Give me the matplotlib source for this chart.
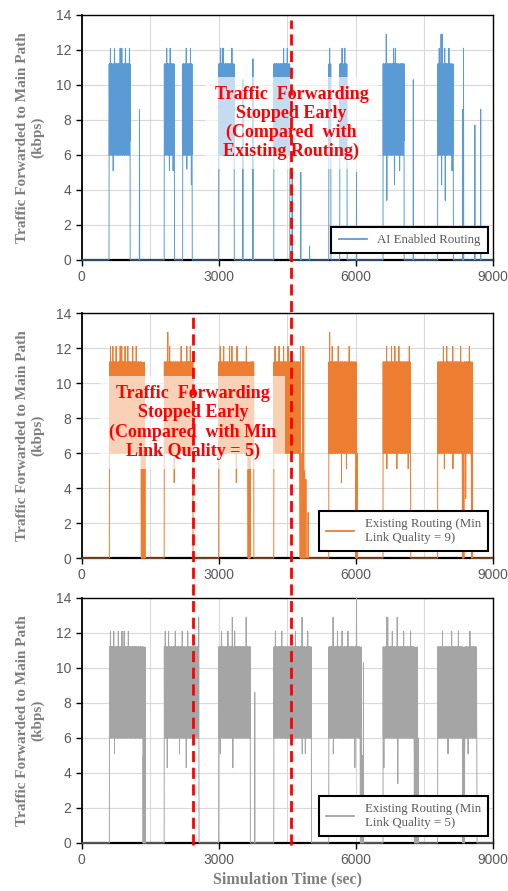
# Traffic forwarded to the main path: AI routing vs existing routing
import numpy as np
import matplotlib.pyplot as plt
from matplotlib.lines import Line2D
from matplotlib.transforms import blended_transform_factory

# DATA
dt = 4                                   # sample step (sec)
t = np.arange(0, 9001, dt)

# levels the traffic jumps between inside a burst
burst_levels = [11.2, 6.0, 11.2, 6.0, 11.2, 6.8, 11.2, 6.0, 10.3, 6.0, 11.2, 6.0]
drop_levels = [5.0, 0.0, 11.2, 0.0, 5.0, 6.0, 0.0, 10.3]

# AI enabled routing
ai_bursts = [(600, 1060), (1805, 2030), (2210, 2420), (3000, 3340), (4205, 4555),
             (5410, 5455), (5650, 5810), (6600, 7060), (7795, 8140)]
ai_drops = []
ai_spikes = [(630, 12.1), (715, 12.1), (690, 5.1), (840, 12.1), (875, 12.1), (955, 12.1),
             (1045, 12.1), (1265, 8.6), (1860, 12.1), (1935, 12.1), (1920, 5.1), (2000, 5.1),
             (2290, 12.1), (2380, 12.1), (2300, 5.2), (2400, 4.3), (3040, 12.1), (3080, 12.1),
             (3100, 12.1), (3290, 12.1), (3530, 10.3), (3750, 11.5), (4420, 12.1),
             (4500, 12.1), (4610, 5.0), (4795, 5.0), (4990, 0.8), (5430, 12.1), (5700, 12.1),
             (5760, 12.1), (6015, 5.0), (6670, 12.9), (6680, 3.4), (6830, 12.1), (6850, 4.3),
             (6870, 12.1), (6960, 5.1), (7260, 10.3), (7830, 12.1), (7870, 12.9), (7880, 4.3),
             (7900, 12.9), (7950, 12.1), (7960, 3.4), (8040, 12.1), (8110, 5.1), (8340, 8.6),
             (8360, 12.1), (8610, 7.7), (8735, 8.6)]

# existing routing, min link quality = 9
q9_bursts = [(607, 1300), (1805, 2435), (2997, 3640), (3690, 3765), (4205, 4775),
             (5410, 6000), (6600, 7200), (7795, 8560)]
q9_drops = [(1300, 1390), (3645, 3665), (6005, 6035), (8330, 8370), (8530, 8555)]
q9_spikes = [(629, 12.1), (680, 12.1), (753, 12.1), (841, 12.1), (877, 12.1), (950, 12.1),
             (1009, 12.1), (1118, 12.1), (1191, 12.1), (1886, 12.9), (1923, 12.1),
             (2025, 4.3), (2178, 12.1), (2302, 12.1), (2376, 12.1), (3033, 12.1),
             (3107, 12.1), (3238, 12.1), (3290, 12.1), (3385, 4.3), (3400, 12.1),
             (3604, 12.1), (3680, 11.2), (4233, 12.1), (4320, 12.1), (4422, 12.1),
             (4517, 12.1), (4790, 12.1), (4800, 6.0), (4812, 0.8), (4840, 12.1),
             (4862, 12.1), (4880, 5.0), (4910, 4.5), (4957, 2.6), (5428, 12.9),
             (5483, 12.1), (5615, 12.1), (5688, 12.1), (5690, 4.3), (5797, 5.1),
             (5856, 12.1), (6675, 12.1), (6680, 5.1), (6785, 12.1), (6858, 12.1),
             (6900, 5.1), (6946, 12.1), (7150, 5.1), (7172, 12.1), (7919, 12.1),
             (7940, 5.1), (7992, 12.1), (8123, 12.1), (8130, 5.1), (8298, 12.1),
             (8408, 3.4), (8488, 12.1)]

# existing routing, min link quality = 5
q5_bursts = [(607, 1340), (1805, 2565), (2997, 3690), (4205, 5030), (5410, 6100),
             (6600, 7280), (7795, 8650)]
q5_drops = [(1345, 1395), (7280, 7370), (8335, 8390)]
q5_spikes = [(629, 12.1), (700, 12.1), (716, 5.1), (800, 12.1), (880, 12.1), (930, 12.1),
             (1020, 12.1), (1830, 12.1), (1871, 4.3), (1900, 12.1), (2050, 12.1),
             (2142, 5.1), (2200, 12.1), (2288, 4.3), (2320, 12.1), (2560, 12.9),
             (3033, 5.1), (3060, 12.1), (3200, 12.1), (3295, 12.9), (3310, 4.3),
             (3350, 12.1), (3600, 12.9), (3790, 8.6), (4240, 12.1), (4380, 12.1),
             (4680, 12.1), (4825, 12.9), (4830, 5.1), (4898, 5.1), (4950, 12.1),
             (5505, 12.9), (5510, 5.1), (5600, 12.1), (5700, 12.1), (5830, 12.1),
             (5980, 4.3), (6015, 14.0), (6110, 8.0), (6125, 11.2), (6150, 5.0),
             (6170, 10.3), (6616, 4.3), (6675, 12.9), (6700, 12.9), (6800, 12.1),
             (6909, 12.9), (6920, 3.4), (7050, 12.1), (7200, 12.1), (7900, 12.1),
             (8022, 5.1), (8100, 12.1), (8250, 12.1), (8350, 4.3), (8459, 5.1),
             (8500, 12.1)]

labels = ['AI Enabled Routing', 'Existing Routing (Min\nLink Quality = 9)',
          'Existing Routing (Min\nLink Quality = 5)']
colors = ['#5B9BD5', '#ED7D31', '#A5A5A5']
stop_times = [4590, 2425]     # red dashed markers

notes = [(4590, 7.83, 'Traffic  Forwarding\nStopped Early\n(Compared  with\nExisting Routing)'),
         (2430, 7.74, 'Traffic  Forwarding\nStopped Early\n(Compared  with Min\nLink Quality = 5)'),
         None]


# FUNCTIONS
def build_series(bursts, drops, spikes):
    y = np.zeros(len(t))
    for t0, t1 in bursts:
        idx = np.where((t >= t0) & (t < t1))[0]
        y[idx] = np.resize(burst_levels, len(idx))
    for t0, t1 in drops:
        idx = np.where((t >= t0) & (t < t1))[0]
        y[idx] = np.resize(drop_levels, len(idx))
    for ts, v in spikes:
        y[np.argmin(np.abs(t - ts))] = v
    return y


series = [build_series(ai_bursts, ai_drops, ai_spikes),
          build_series(q9_bursts, q9_drops, q9_spikes),
          build_series(q5_bursts, q5_drops, q5_spikes)]

# MAIN
serif = 'Liberation Serif'
plt.rcParams['font.family'] = 'Liberation Sans'

fig = plt.figure(figsize=(5.08, 8.91), dpi=100)
bottoms = [0.7082, 0.3737, 0.0539]
axs = [fig.add_axes([0.161, b, 0.809, 0.275]) for b in bottoms]

for i, ax in enumerate(axs):
    ax.plot(t, series[i], color=colors[i], lw=0.7, label=labels[i], zorder=3, clip_on=False)
    ax.set_xlim(0, 9000)
    ax.set_ylim(0, 14)
    ax.set_xticks([0, 3000, 6000, 9000])
    ax.set_xticks([1500, 4500, 7500], minor=True)
    ax.set_yticks(range(0, 15, 2))
    ax.grid(True, which='both', color='#D9D9D9', lw=0.8, zorder=0)
    ax.set_axisbelow(True)
    ax.tick_params(axis='both', which='major', labelsize=10, labelcolor='#595959',
                   direction='out', length=4, width=1)
    ax.tick_params(axis='x', which='minor', length=0)
    for s in ax.spines.values():
        s.set_color('black')
        s.set_linewidth(1.0)
    ax.spines['bottom'].set_linewidth(1.6)
    ax.spines['left'].set_linewidth(1.3)

    ax.set_ylabel('Traffic Forwarded to Main Path\n(kbps)', fontsize=11, fontweight='bold',
                  family=serif, color='#7F7F7F', linespacing=1.25)
    ax.yaxis.set_label_coords(-0.09, 0.5)

    leg = ax.legend(loc='lower right', bbox_to_anchor=(0.988, 0.028), borderaxespad=0,
                    fancybox=False, prop={'family': serif, 'size': 9.3}, handlelength=2.2,
                    borderpad=0.55, labelspacing=0.2)
    leg.get_frame().set_edgecolor('black')
    leg.get_frame().set_linewidth(1.5)
    leg.get_frame().set_alpha(1)
    for txt in leg.get_texts():
        txt.set_color('#595959')
    for h in leg.get_lines():
        h.set_linewidth(1.3)
    leg.set_zorder(6)

    if notes[i] is not None:
        x, y, s = notes[i]
        ax.text(x, y, s, ha='center', va='center', color='#FF0000', fontsize=13,
                fontweight='bold', family=serif, linespacing=1.15, zorder=4,
                bbox=dict(boxstyle='square,pad=0.5', fc='white', ec='none', alpha=0.65))

axs[2].set_xlabel('Simulation Time (sec)', fontsize=11.5, fontweight='bold',
                  family=serif, color='#7F7F7F', labelpad=3)

# red dashed lines running across the panels
trans = blended_transform_factory(axs[0].transData, fig.transFigure)
tops = [0.9776, 0.6442]
for xs, top in zip(stop_times, tops):
    fig.add_artist(Line2D([xs, xs], [0.0516, top], transform=trans, color='#FF0000',
                          lw=2, ls=(0, (4, 2)), zorder=5))

fig.savefig('out.png', dpi=100)
